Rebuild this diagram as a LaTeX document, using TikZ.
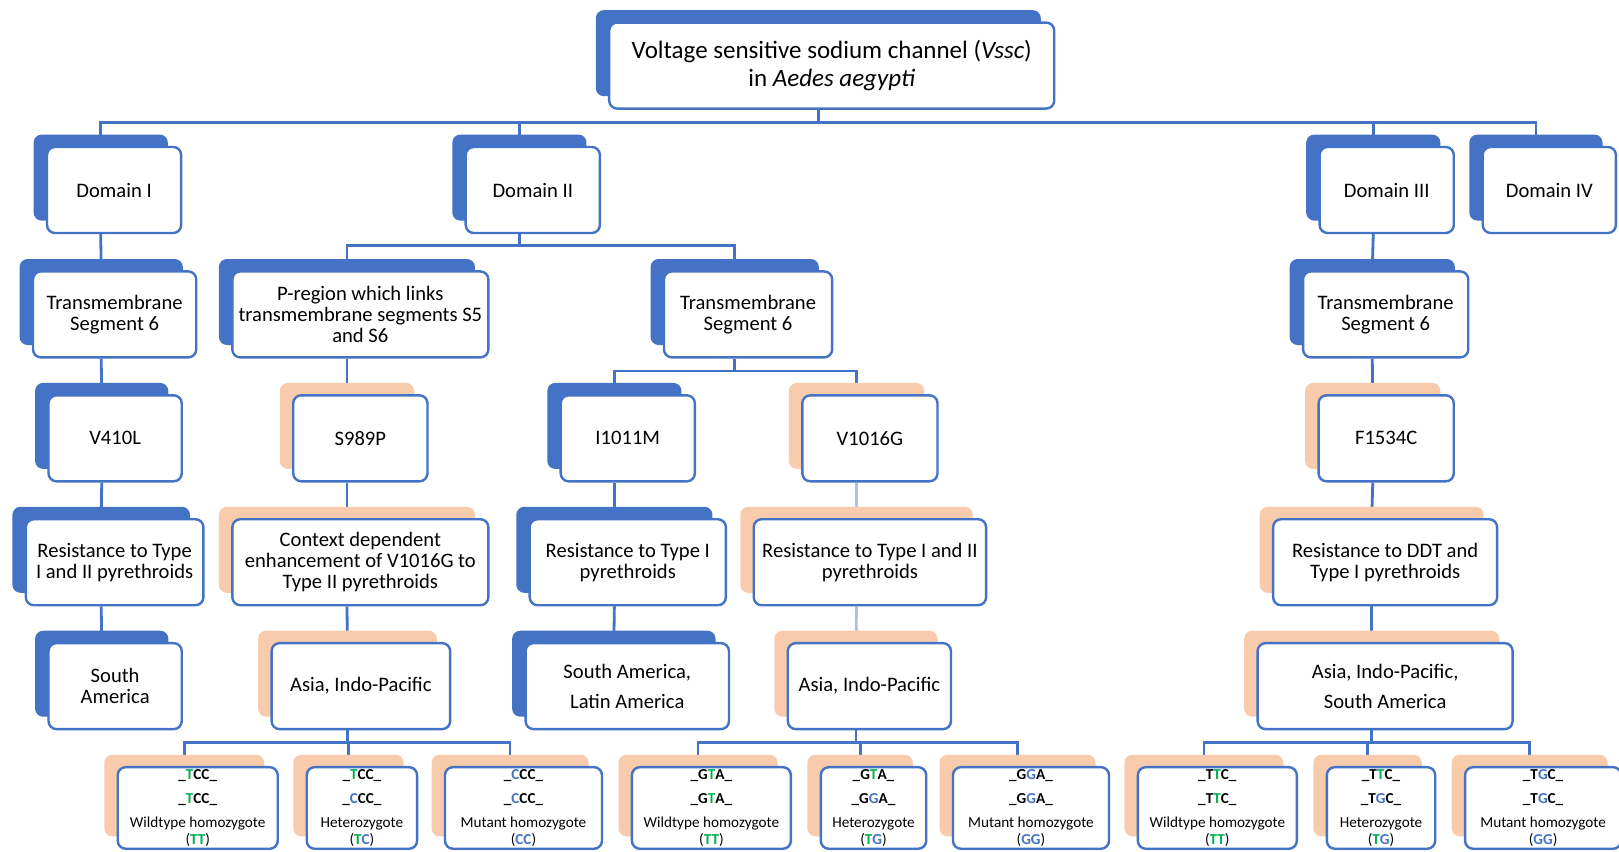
\documentclass[tikz,border=0pt]{standalone}
\usepackage{fontspec}
\setmainfont{Carlito}
\usetikzlibrary{shadows,backgrounds}
\definecolor{vblue}{HTML}{4472C4}
\definecolor{vpeach}{HTML}{F8CBAD}
\definecolor{vgreen}{HTML}{00B050}
\newcommand\wtb[1]{\textcolor{vgreen}{#1}}
\newcommand\mtb[1]{\textcolor{vblue}{#1}}
\tikzset{
  box/.style={draw=vblue, line width=1.2pt, fill=white, rounded corners=4pt,
    align=center, inner sep=1pt, minimum height=43pt,
    font=\fontsize{10.3}{10.6}\selectfont},
  bluebox/.style={box, general shadow={fill=vblue, shadow xshift=-6.7pt, shadow yshift=6.2pt}},
  peachbox/.style={box, general shadow={fill=vpeach, shadow xshift=-6.7pt, shadow yshift=6.2pt}},
  genbox/.style={peachbox, minimum height=40.8pt, font=\fontsize{7.6}{8.5}\selectfont},
  link/.style={draw=vblue, line width=1.4pt},
  stem/.style={xshift=-6.7pt},
}

\begin{document}
\begin{tikzpicture}[x=0.51625pt, y=-0.51625pt]
  \useasboundingbox (0,0) rectangle (1568,825);
  % root
  \node[bluebox, minimum width=222.5pt, font=\fontsize{12.5}{14}\selectfont] (vssc) at (805.5,63.5)
    {Voltage sensitive sodium channel (\textit{Vssc})\\ in \textit{Aedes aegypti}};
  % domains
  \node[bluebox, minimum width=67.1pt] (domI)   at (110.5,184) {Domain I};
  \node[bluebox, minimum width=67.1pt] (domII)  at (516,184)   {Domain II};
  \node[bluebox, minimum width=67.1pt] (domIII) at (1343,184)  {Domain III};
  \node[bluebox, minimum width=66.6pt] (domIV)  at (1500.5,184) {Domain IV};
  % segments
  \node[bluebox, minimum width=81.6pt] (tsI)  at (111,304.5)  {Transmembrane\\ Segment 6};
  \node[bluebox, minimum width=128pt]  (preg) at (349,304.5)  {P-region which links\\ transmembrane segments S5\\ and S6};
  \node[bluebox, minimum width=84.1pt] (tsII) at (724.5,304.5) {Transmembrane\\ Segment 6};
  \node[bluebox, minimum width=82.6pt] (tsIII) at (1342,304.5) {Transmembrane\\ Segment 6};
  % mutations
  \node[bluebox, minimum width=66.6pt]  (mV410)  at (111.5,424.5) {V410L};
  \node[peachbox, minimum width=67.1pt] (mS989)  at (349,424.5)   {S989P};
  \node[bluebox, minimum width=67.1pt]  (mI1011) at (608,424.5)   {I1011M};
  \node[peachbox, minimum width=67.6pt] (mV1016) at (842.5,424.5) {V1016G};
  \node[peachbox, minimum width=67.6pt] (mF1534) at (1342.5,424.5) {F1534C};
  % effects
  \node[bluebox, minimum width=88.8pt]   (rV410)  at (111,544.5)   {Resistance to Type\\ I and II pyrethroids};
  \node[peachbox, minimum width=128pt]   (rS989)  at (349,544.5)   {Context dependent\\ enhancement of V1016G to\\ Type II pyrethroids};
  \node[bluebox, minimum width=98.1pt]   (rI1011) at (608,544.5)   {Resistance to Type I\\ pyrethroids};
  \node[peachbox, minimum width=116.2pt] (rV1016) at (842.5,544.5) {Resistance to Type I and II\\ pyrethroids};
  \node[peachbox, minimum width=112pt]   (rF1534) at (1341.5,544.5) {Resistance to DDT and\\ Type I pyrethroids};
  % regions
  \node[bluebox, minimum width=66.6pt]   (gV410)  at (111.5,664.5)  {South\\ America};
  \node[peachbox, minimum width=89.3pt]  (gS989)  at (349.5,664.5)  {Asia, Indo-Pacific};
  \node[bluebox, minimum width=101.7pt]  (gI1011) at (607.5,664.5)  {South America,\\[4.5pt] Latin America};
  \node[peachbox, minimum width=81.6pt]  (gV1016) at (842,664.5)    {Asia, Indo-Pacific};
  \node[peachbox, minimum width=127.5pt] (gF1534) at (1341.5,664.5) {Asia, Indo-Pacific,\\[4.5pt] South America};
  % genotypes S989P
  \node[genbox, minimum width=80pt] (sTT) at (191.5,782.5)
    {\textbf{\_\wtb{T}CC\_}\\[3.4pt]\textbf{\_\wtb{T}CC\_}\\[3.4pt]Wildtype homozygote\\(\textbf{\wtb{TT}})};
  \node[genbox, minimum width=55.2pt] (sTC) at (350.5,782.5)
    {\textbf{\_\wtb{T}CC\_}\\[3.4pt]\textbf{\_\mtb{C}CC\_}\\[3.4pt]Heterozygote\\(\textbf{\wtb{T}\mtb{C}})};
  \node[genbox, minimum width=78.5pt] (sCC) at (507,782.5)
    {\textbf{\_\mtb{C}CC\_}\\[3.4pt]\textbf{\_\mtb{C}CC\_}\\[3.4pt]Mutant homozygote\\(\textbf{\mtb{CC}})};
  % genotypes V1016G
  \node[genbox, minimum width=79.5pt] (vTT) at (689,782.5)
    {\textbf{\_G\wtb{T}A\_}\\[3.4pt]\textbf{\_G\wtb{T}A\_}\\[3.4pt]Wildtype homozygote\\(\textbf{\wtb{TT}})};
  \node[genbox, minimum width=52.7pt] (vTG) at (846,782.5)
    {\textbf{\_G\wtb{T}A\_}\\[3.4pt]\textbf{\_G\mtb{G}A\_}\\[3.4pt]Heterozygote\\(\textbf{\wtb{T}\mtb{G}})};
  \node[genbox, minimum width=78pt] (vGG) at (998.5,782.5)
    {\textbf{\_G\mtb{G}A\_}\\[3.4pt]\textbf{\_G\mtb{G}A\_}\\[3.4pt]Mutant homozygote\\(\textbf{\mtb{GG}})};
  % genotypes F1534C
  \node[genbox, minimum width=79.5pt] (fTT) at (1179,782.5)
    {\textbf{\_T\wtb{T}C\_}\\[3.4pt]\textbf{\_T\wtb{T}C\_}\\[3.4pt]Wildtype homozygote\\(\textbf{\wtb{TT}})};
  \node[genbox, minimum width=54.2pt] (fTG) at (1337.5,782.5)
    {\textbf{\_T\wtb{T}C\_}\\[3.4pt]\textbf{\_T\mtb{G}C\_}\\[3.4pt]Heterozygote\\(\textbf{\wtb{T}\mtb{G}})};
  \node[genbox, minimum width=78pt] (fGG) at (1494.5,782.5)
    {\textbf{\_T\mtb{G}C\_}\\[3.4pt]\textbf{\_T\mtb{G}C\_}\\[3.4pt]Mutant homozygote\\(\textbf{\mtb{GG}})};

  \begin{pgfonlayer}{background}
    \draw[link] ([stem]vssc.south) -- ++(0,12) coordinate (b0);
    \foreach \n in {domI,domII,domIII,domIV}
      \draw[link] (b0) -| ([stem]\n.north);
    \draw[link] ([stem]domII.south) -- ++(0,11) coordinate (b1);
    \foreach \n in {preg,tsII}
      \draw[link] (b1) -| ([stem]\n.north);
    \draw[link] ([stem]tsII.south) -- ++(0,12) coordinate (b2);
    \foreach \n in {mI1011,mV1016}
      \draw[link] (b2) -| ([stem]\n.north);
    % straight chains
    \draw[link] ([stem]domI.south) -- ([stem]tsI.north);
    \draw[link] ([stem]tsI.south) -- ([stem]mV410.north);
    \draw[link] ([stem]mV410.south) -- ([stem]rV410.north);
    \draw[link] ([stem]rV410.south) -- ([stem]gV410.north);
    \draw[link] ([stem]preg.south) -- ([stem]mS989.north);
    \draw[link] ([stem]mS989.south) -- ([stem]rS989.north);
    \draw[link] ([stem]rS989.south) -- ([stem]gS989.north);
    \draw[link] ([stem]mI1011.south) -- ([stem]rI1011.north);
    \draw[link] ([stem]rI1011.south) -- ([stem]gI1011.north);
    \draw[link, draw=vblue!45] ([stem]mV1016.south) -- ([stem]rV1016.north);
    \draw[link, draw=vblue!45] ([stem]rV1016.south) -- ([stem]gV1016.north);
    \draw[link] ([stem]domIII.south) -- ([stem]tsIII.north);
    \draw[link] ([stem]tsIII.south) -- ([stem]mF1534.north);
    \draw[link] ([stem]mF1534.south) -- ([stem]rF1534.north);
    \draw[link] ([stem]rF1534.south) -- ([stem]gF1534.north);
    % genotype buses
    \draw[link] ([stem]gS989.south) -- ++(0,12) coordinate (b3);
    \foreach \n in {sTT,sTC,sCC}
      \draw[link] (b3) -| ([stem]\n.north);
    \draw[link] ([stem]gV1016.south) -- ++(0,12) coordinate (b4);
    \foreach \n in {vTT,vTG,vGG}
      \draw[link] (b4) -| ([stem]\n.north);
    \draw[link] ([stem]gF1534.south) -- ++(0,12) coordinate (b5);
    \foreach \n in {fTT,fTG,fGG}
      \draw[link] (b5) -| ([stem]\n.north);
  \end{pgfonlayer}
\end{tikzpicture}
\end{document}
